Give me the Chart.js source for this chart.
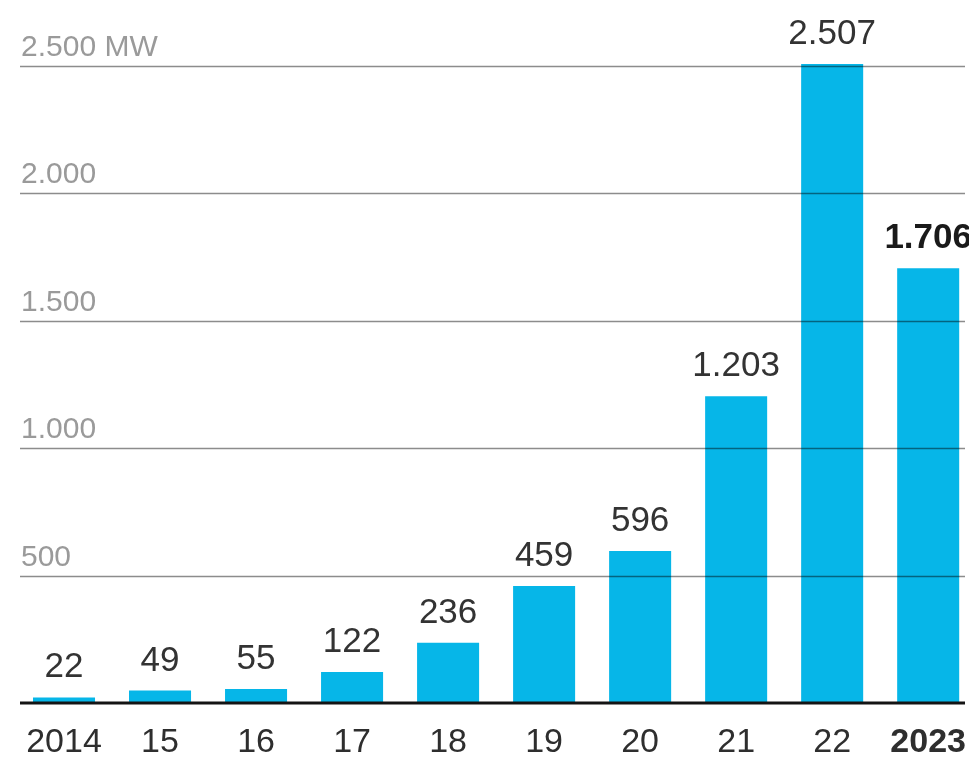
<!DOCTYPE html>
<html>
<head>
<meta charset="utf-8">
<script src="https://cdn.jsdelivr.net/npm/chart.js@4"></script>
<style>
  html, body { margin: 0; padding: 0; background: #fff; overflow: hidden; }
  #wrap { width: 985px; height: 762px; }
</style>
</head>
<body>
<div id="wrap"><canvas id="mwChart"></canvas></div>
<script>
const years = ['2014', '15', '16', '17', '18', '19', '20', '21', '22', '2023'];
const megawatts = [22, 49, 55, 122, 236, 459, 596, 1203, 2507, 1706];
const gridValues = [500, 1000, 1500, 2000, 2500];
const gridLabels = ['500', '1.000', '1.500', '2.000', '2.500 MW'];
const boldYears = ['2023'];

// german thousands separator
function fmt(n) {
    return String(n).replace(/\B(?=(\d{3})+(?!\d))/g, '.');
}

const overlay = {
    id: 'overlay',
    afterDatasetsDraw(chart) {
        const ctx = chart.ctx;
        const y = chart.scales.y;
        ctx.save();

        // grid lines + labels sitting on top of them
        ctx.font = '30px "Liberation Sans", Arial, sans-serif';
        ctx.textAlign = 'left';
        ctx.textBaseline = 'alphabetic';
        gridValues.forEach((v, i) => {
            const py = Math.round(y.getPixelForValue(v)) + 0.5;
            ctx.strokeStyle = 'rgba(0,0,0,0.45)';
            ctx.lineWidth = 1.5;
            ctx.beginPath();
            ctx.moveTo(20, py);
            ctx.lineTo(965, py);
            ctx.stroke();
            ctx.fillStyle = '#9a9a9a';
            ctx.fillText(gridLabels[i], 21, py - 11);
        });

        // baseline
        const base = y.getPixelForValue(0);
        ctx.strokeStyle = '#141414';
        ctx.lineWidth = 3;
        ctx.beginPath();
        ctx.moveTo(20, base);
        ctx.lineTo(965, base);
        ctx.stroke();

        // value labels
        const meta = chart.getDatasetMeta(0);
        ctx.textAlign = 'center';
        meta.data.forEach((bar, i) => {
            const last = i === megawatts.length - 1;
            ctx.font = (last ? 'bold ' : '') + '35px "Liberation Sans", Arial, sans-serif';
            ctx.fillStyle = last ? '#1a1a1a' : '#333';
            ctx.fillText(fmt(megawatts[i]), bar.x, bar.y - 20);
        });
        ctx.restore();
    }
};

const ctx = document.getElementById('mwChart').getContext('2d');
new Chart(ctx, {
    type: 'bar',
    data: {
        labels: years,
        datasets: [{
            data: megawatts,
            backgroundColor: '#06b6e8',
            borderWidth: 0,
            categoryPercentage: 1,
            barPercentage: 0.646
        }]
    },
    options: {
        responsive: true,
        maintainAspectRatio: false,
        animation: false,
        layout: { padding: { top: 2, left: 16, right: 0, bottom: 0 } },
        plugins: {
            legend: { display: false },
            tooltip: { enabled: false }
        },
        scales: {
            x: {
                grid: { display: false, drawTicks: false },
                border: { display: false },
                afterFit(scale) { scale.height = 59; },
                ticks: {
                    padding: 19,
                    color: '#2e2e2e',
                    font: ctx => ({
                        family: '"Liberation Sans", Arial, sans-serif',
                        size: 34,
                        weight: boldYears.includes(years[ctx.index]) ? 'bold' : 'normal'
                    })
                }
            },
            y: {
                display: false,
                min: 0,
                max: 2750
            }
        }
    },
    plugins: [overlay]
});
</script>
</body>
</html>
